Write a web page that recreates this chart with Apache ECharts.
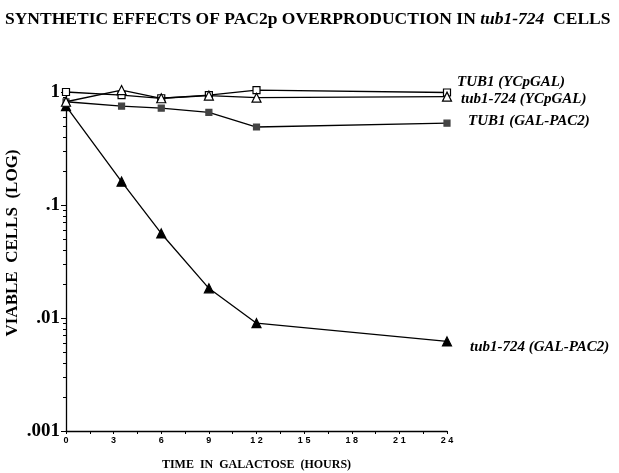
<!DOCTYPE html>
<html>
<head>
<meta charset="utf-8">
<script src="https://cdn.jsdelivr.net/npm/echarts@6/dist/echarts.min.js"></script>
<style>
  html, body { margin: 0; padding: 0; background: #fff; }
  #chart { width: 619px; height: 473px; }
</style>
</head>
<body>
<div id="chart"></div>
<script>
// hours in galactose
const hours = [0, 3.5, 6, 9, 12, 24];
const xTicks = [0, 3, 6, 9, 12, 15, 18, 21, 24];
const yTicks = [0.001, 0.01, 0.1, 1];
const yTickLabels = [".001", ".01", ".1", "1"];

// viable cells (fraction)
const tub1YCpGAL = [1.0, 0.94, 0.88, 0.94, 1.04, 0.99];
const tub724YCpGAL = [0.82, 1.04, 0.88, 0.93, 0.89, 0.91];
const tub1GalPac2 = [0.82, 0.75, 0.72, 0.66, 0.49, 0.53];
const tub724GalPac2 = [0.75, 0.161, 0.056, 0.0183, 0.009, 0.0062];

const seriesNames = [
  "TUB1 (YCpGAL)",
  "tub1-724 (YCpGAL)",
  "TUB1 (GAL-PAC2)",
  "tub1-724 (GAL-PAC2)"
];

const pairs = (ys) => hours.map((h, i) => [h, ys[i]]);

const labelFont = {
  fontFamily: "Liberation Serif",
  fontWeight: "bold",
  fontStyle: "italic",
  fontSize: 15,
  color: "#000"
};

function makeSeries(name, ys, symbol, size, fill, z, offset) {
  return {
    name: name,
    type: "line",
    data: pairs(ys),
    symbol: symbol,
    symbolSize: size,
    showAllSymbol: true,
    clip: false,
    z: z,
    lineStyle: { color: "#000", width: 1.3 },
    itemStyle: { color: fill, borderColor: fill === "#fff" ? "#000" : fill, borderWidth: 1.2 },
    emphasis: { disabled: true },
    endLabel: {
      show: true,
      formatter: name,
      align: "left",
      verticalAlign: "middle",
      offset: offset,
      ...labelFont
    }
  };
}

const chart = echarts.init(document.getElementById("chart"), null, { renderer: "canvas" });

chart.setOption({
  animation: false,
  backgroundColor: "#fff",
  title: {
    text: "SYNTHETIC EFFECTS OF PAC2p OVERPRODUCTION IN {i|tub1-724}  CELLS",
    left: 0,
    top: 5,
    textStyle: {
      fontFamily: "Liberation Serif",
      fontWeight: "bold",
      fontSize: 17.5,
      color: "#000",
      rich: {
        i: {
          fontFamily: "Liberation Serif",
          fontWeight: "bold",
          fontStyle: "italic",
          fontSize: 17.5,
          color: "#000"
        }
      }
    }
  },
  // y axis title placed by hand, it sits above the axis centre
  graphic: [{
    type: "text",
    x: 13,
    y: 243,
    rotation: Math.PI / 2,
    style: {
      text: "VIABLE  CELLS  (LOG)",
      fontFamily: "Liberation Serif",
      fontWeight: "bold",
      fontSize: 17,
      fill: "#000",
      align: "center",
      verticalAlign: "middle"
    }
  }],
  grid: { left: 66, right: 172, top: 92, bottom: 42, outerBoundsMode: "none" },
  xAxis: {
    type: "value",
    min: 0,
    max: 24,
    interval: 3,
    name: "TIME  IN  GALACTOSE  (HOURS)",
    nameLocation: "middle",
    nameGap: 28,
    nameTextStyle: {
      fontFamily: "Liberation Serif",
      fontWeight: "bold",
      fontSize: 12,
      color: "#000"
    },
    axisLine: { lineStyle: { color: "#000", width: 1.3 } },
    axisTick: { show: true, length: 3, lineStyle: { color: "#000" } },
    minorTick: { show: true, splitNumber: 2, length: 3, lineStyle: { color: "#000" } },
    splitLine: { show: false },
    axisLabel: {
      margin: 5,
      fontFamily: "Liberation Sans",
      fontWeight: "bold",
      fontSize: 9,
      color: "#000",
      formatter: (v) => (xTicks.includes(v) ? String(v).split("").join(" ") : "")
    }
  },
  yAxis: {
    type: "log",
    logBase: 10,
    min: 0.001,
    max: 1,
    axisLine: { show: true, lineStyle: { color: "#000", width: 1.3 } },
    axisTick: { show: true, length: 5, lineStyle: { color: "#000" } },
    minorTick: { show: true, splitNumber: 9, length: 3, lineStyle: { color: "#000" } },
    splitLine: { show: false },
    axisLabel: {
      margin: 6,
      fontFamily: "Liberation Serif",
      fontWeight: "bold",
      fontSize: 19,
      color: "#000",
      formatter: (v) => {
        const i = yTicks.findIndex((t) => Math.abs(t - v) / t < 1e-6);
        return i >= 0 ? yTickLabels[i] : "";
      }
    }
  },
  series: [
    makeSeries(seriesNames[0], tub1YCpGAL, "rect", 7, "#fff", 4, [2, -10]),
    makeSeries(seriesNames[1], tub724YCpGAL, "triangle", 9, "#fff", 5, [6, 2]),
    makeSeries(seriesNames[2], tub1GalPac2, "rect", 6, "#444", 3, [13, -2]),
    makeSeries(seriesNames[3], tub724GalPac2, "triangle", 9, "#000", 2, [15, 6])
  ]
});
</script>
</body>
</html>
